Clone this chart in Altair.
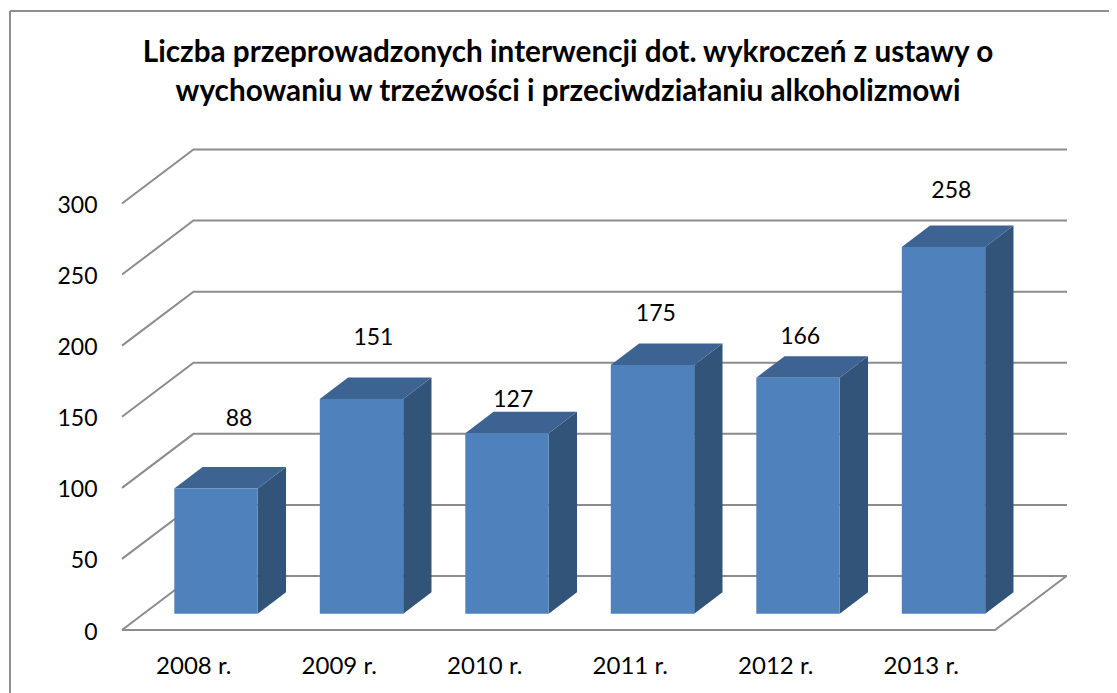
import altair as alt
import pandas as pd

years = ["2008 r.", "2009 r.", "2010 r.", "2011 r.", "2012 r.", "2013 r."]
values = [88, 151, 127, 175, 166, 258]
levels = [0, 50, 100, 150, 200, 250, 300]
# manually placed data labels in the reference: lift above the bar front, in value units
label_lift = [49, 42.6, 23.3, 35.6, 28.6, 39]
label_shift = [0.304, 0.228, 0.189, 0.169, 0.161, 0.20]

PX_X, PX_Y = 145.5, 1.4217
W, H = 945, 480
dom_x = [0, W / PX_X]
dom_y = [0, H / PX_Y]
wall_dx, wall_dy = 71.5 / PX_X, 54.0 / PX_Y
bar_left, bar_w = 52.3 / PX_X, 83.4 / PX_X
bar_base = 16.3 / PX_Y
side_dx, side_dy = 28.3 / PX_X, 21.5 / PX_Y
n = len(years)
x_s = alt.Scale(domain=dom_x, nice=False, zero=False)
y_s = alt.Scale(domain=dom_y, nice=False, zero=False)

GRID = "#8c8c8c"
FRONT, TOP, SIDE = "#4f81bd", "#3c6391", "#325479"
FONT = "Lato"

grid = pd.DataFrame(
    [{"k": v, "i": 0, "x": 0, "y": v} for v in levels]
    + [{"k": v, "i": 1, "x": wall_dx, "y": v + wall_dy} for v in levels]
    + [{"k": v, "i": 2, "x": dom_x[1], "y": v + wall_dy} for v in levels]
)
floor = pd.DataFrame(
    {"x": [0, float(n), float(n) + wall_dx], "y": [0, 0, wall_dy], "i": [0, 1, 2]}
)
bars = pd.DataFrame(
    {
        "year": years,
        "v": values,
        "x0": [i + bar_left for i in range(n)],
        "x1": [i + bar_left + bar_w for i in range(n)],
        "y0": [bar_base] * n,
        "y1": [bar_base + v for v in values],
    }
)
side = pd.concat(
    [
        bars.assign(sx=bars.x1, sa=bars.y0, sb=bars.y1),
        bars.assign(sx=bars.x1 + side_dx, sa=bars.y0 + side_dy, sb=bars.y1 + side_dy),
    ]
)
top = pd.concat(
    [
        bars.assign(ty=bars.y1, ta=bars.x0, tb=bars.x1),
        bars.assign(ty=bars.y1 + side_dy, ta=bars.x0 + side_dx, tb=bars.x1 + side_dx),
    ]
)
labels = pd.DataFrame(
    {
        "t": [str(v) for v in values],
        "x": [i + 0.5 + s for i, s in enumerate(label_shift)],
        "y": [bar_base + v + l for v, l in zip(values, label_lift)],
    }
)

year_expr = "[" + ",".join(f"'{y}'" for y in years) + "][floor(datum.value)]"

grid_l = alt.Chart(grid).mark_line(color=GRID, strokeWidth=2).encode(
    x=alt.X(
        "x:Q",
        scale=x_s,
        axis=alt.Axis(
            values=[i + 0.5 for i in range(n)],
            labelExpr=year_expr,
            title=None,
            domain=False,
            ticks=False,
            grid=False,
            labelFont=FONT,
            labelFontSize=24,
            labelColor="#000000",
            labelPadding=24,
            labelOffset=-1.5,
            labelFlush=False,
            labelOverlap=False,
        ),
    ),
    y=alt.Y(
        "y:Q",
        scale=y_s,
        axis=alt.Axis(
            values=levels,
            title=None,
            domain=False,
            ticks=False,
            grid=False,
            labelFont=FONT,
            labelFontSize=23,
            labelColor="#000000",
            labelPadding=25,
            labelOffset=2,
            labelOverlap=False,
        ),
    ),
    detail="k:N",
    order="i:O",
)
floor_l = alt.Chart(floor).mark_line(color=GRID, strokeWidth=2).encode(
    x=alt.X("x:Q", scale=x_s), y=alt.Y("y:Q", scale=y_s), order="i:O"
)
side_l = alt.Chart(side).mark_area(color=SIDE).encode(
    x=alt.X("sx:Q", scale=x_s),
    y=alt.Y("sa:Q", scale=y_s),
    y2="sb:Q",
    detail="year:N",
)
top_l = alt.Chart(top).mark_area(color=TOP, orient="horizontal").encode(
    y=alt.Y("ty:Q", scale=y_s),
    x=alt.X("ta:Q", scale=x_s),
    x2="tb:Q",
    detail="year:N",
)
front_l = alt.Chart(bars).mark_rect(color=FRONT).encode(
    x=alt.X("x0:Q", scale=x_s),
    x2="x1:Q",
    y=alt.Y("y0:Q", scale=y_s),
    y2="y1:Q",
)
label_l = alt.Chart(labels).mark_text(font=FONT, fontSize=23, color="#000000").encode(
    x=alt.X("x:Q", scale=x_s), y=alt.Y("y:Q", scale=y_s), text="t:N"
)
frame_top = alt.Chart(pd.DataFrame({"a": [0]})).mark_rule(color="#8f8f8f", strokeWidth=2).encode(
    x=alt.value(-112), x2=alt.value(995), y=alt.value(-139)
)
frame_left = alt.Chart(pd.DataFrame({"a": [0]})).mark_rule(color="#8f8f8f", strokeWidth=2).encode(
    x=alt.value(-112), y=alt.value(-139), y2=alt.value(543)
)

chart = (
    alt.layer(grid_l, floor_l, side_l, top_l, front_l, label_l, frame_top, frame_left)
    .properties(
        width=W,
        height=H,
        title=alt.TitleParams(
            text=[
                "Liczba przeprowadzonych interwencji dot. wykroczeń z ustawy o",
                "wychowaniu w trzeźwości i przeciwdziałaniu alkoholizmowi",
            ],
            font=FONT,
            fontSize=29.7,
            fontWeight="bold",
            color="#000000",
            lineHeight=39,
            anchor="middle",
            baseline="alphabetic",
            dx=-26.5,
            offset=-121,
        ),
        padding={"left": 114, "top": 142, "right": 42, "bottom": 63},
        autosize=alt.AutoSizeParams(type="none"),
        background="#ffffff",
    )
    .configure_view(stroke=None)
)
chart.save("out.html", embed_options={"renderer": "svg", "actions": False})
